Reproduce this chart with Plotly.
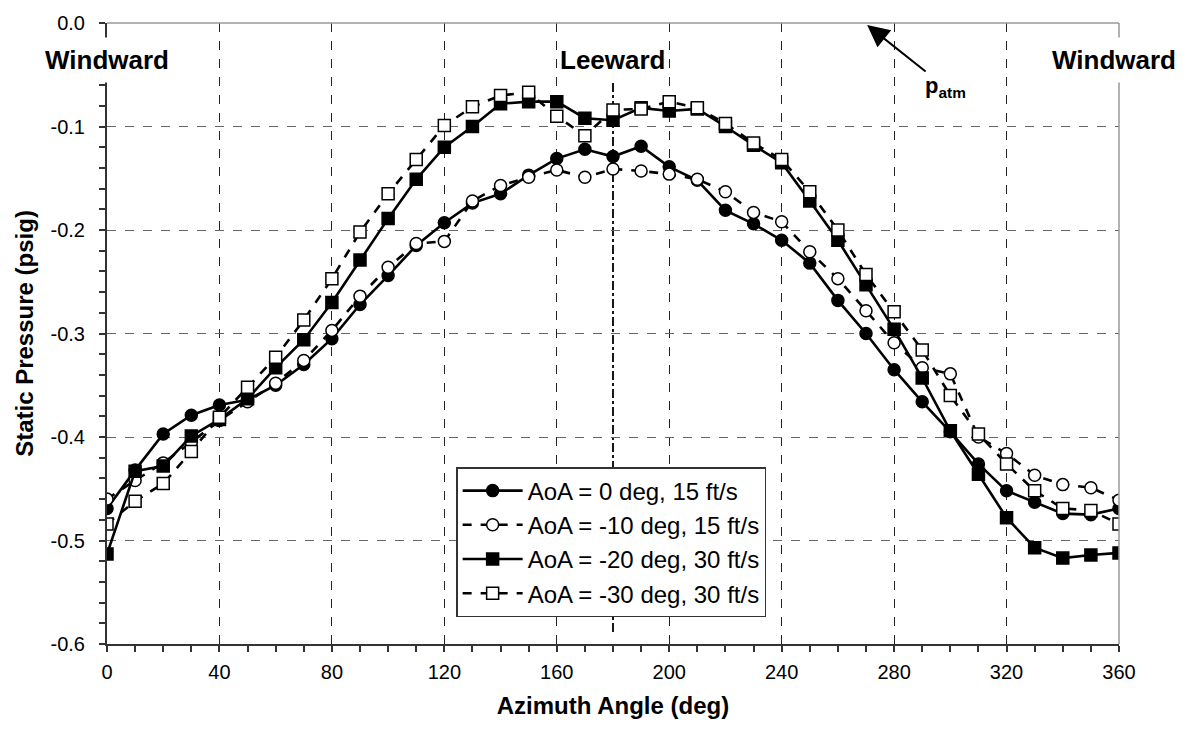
import plotly.graph_objects as go

FONT = "Arial, Liberation Sans, sans-serif"

azimuth = list(range(0, 361, 10))

aoa0_15 = [-0.469, -0.432, -0.397, -0.379, -0.369, -0.364, -0.350, -0.330, -0.305, -0.272,
           -0.244, -0.215, -0.193, -0.174, -0.165, -0.147, -0.131, -0.122, -0.129, -0.119,
           -0.139, -0.152, -0.181, -0.194, -0.210, -0.232, -0.268, -0.300, -0.335, -0.366,
           -0.395, -0.426, -0.452, -0.463, -0.474, -0.475, -0.469]

aoam10_15 = [-0.460, -0.442, -0.425, -0.405, -0.384, -0.366, -0.348, -0.326, -0.297, -0.264,
             -0.236, -0.213, -0.211, -0.172, -0.157, -0.149, -0.142, -0.149, -0.141, -0.143,
             -0.146, -0.151, -0.163, -0.183, -0.192, -0.221, -0.247, -0.278, -0.309, -0.333,
             -0.339, -0.400, -0.416, -0.437, -0.446, -0.449, -0.461]

aoam20_30 = [-0.513, -0.433, -0.428, -0.399, -0.383, -0.363, -0.333, -0.306, -0.270, -0.229,
             -0.189, -0.151, -0.120, -0.100, -0.078, -0.076, -0.076, -0.092, -0.094, -0.082,
             -0.085, -0.083, -0.100, -0.118, -0.135, -0.172, -0.210, -0.253, -0.296, -0.343,
             -0.394, -0.436, -0.478, -0.507, -0.517, -0.514, -0.512]

aoam30_30 = [-0.484, -0.462, -0.445, -0.414, -0.381, -0.352, -0.323, -0.287, -0.247, -0.202,
             -0.165, -0.132, -0.099, -0.081, -0.070, -0.067, -0.090, -0.109, -0.084, -0.083,
             -0.076, -0.082, -0.097, -0.116, -0.132, -0.163, -0.200, -0.243, -0.279, -0.316,
             -0.360, -0.397, -0.426, -0.452, -0.469, -0.471, -0.484]

series_names = ["AoA = 0 deg, 15 ft/s", "AoA = -10 deg, 15 ft/s",
                "AoA = -20 deg, 30 ft/s", "AoA = -30 deg, 30 ft/s"]

x_tickvals = list(range(0, 361, 40))
x_ticktext = [str(v) for v in x_tickvals]
y_tickvals = [0.0, -0.1, -0.2, -0.3, -0.4, -0.5, -0.6]
y_ticktext = ["0.0", "-0.1", "-0.2", "-0.3", "-0.4", "-0.5", "-0.6"]

fig = go.Figure()

styles = [
    (aoa0_15, "circle", "black", "solid"),
    (aoam10_15, "circle", "white", "dash"),
    (aoam20_30, "square", "black", "solid"),
    (aoam30_30, "square", "white", "dash"),
]
for (vals, sym, fill, dash), name in zip(styles, series_names):
    fig.add_trace(go.Scatter(
        x=azimuth, y=vals, name=name, mode="lines+markers",
        line=dict(color="black", width=2.6, dash=dash),
        marker=dict(symbol=sym, size=12, color=fill,
                    line=dict(color="black", width=1.5)),
    ))

# Leeward center line at 180 deg
fig.add_shape(type="line", x0=180, x1=180, y0=-0.058, y1=-0.59,
              xref="x", yref="y", layer="below",
              line=dict(color="black", width=1.8, dash="dashdot"))

# top and right frame (gray)
fig.add_shape(type="line", xref="paper", yref="paper", x0=0, x1=1, y0=1, y1=1,
              line=dict(color="#999999", width=1.5))
fig.add_shape(type="line", xref="paper", yref="paper", x0=1, x1=1, y0=0, y1=1,
              line=dict(color="#999999", width=1.5))

lab_font = dict(family=FONT, size=26, color="black")
fig.add_annotation(x=(177 - 107) / 1012, xref="paper", y=-0.0356, yref="y",
                   text="<b>Windward</b>",
                   showarrow=False, xanchor="right", yanchor="middle", font=lab_font,
                   bgcolor="white", borderpad=7)
fig.add_annotation(x=(1184 - 107) / 1012, xref="paper", y=-0.0356, yref="y",
                   text="<b>Windward</b>",
                   showarrow=False, xanchor="right", yanchor="middle", font=lab_font,
                   bgcolor="white", borderpad=7)
fig.add_annotation(x=180, y=-0.0356, text="<b>Leeward</b>", showarrow=False,
                   xanchor="center", yanchor="middle", font=lab_font,
                   bgcolor="white", borderpad=2)
fig.add_annotation(x=270.4, y=-0.002, text="<b>p<sub>atm</sub></b>",
                   showarrow=True, ax=78, ay=62, arrowhead=2, arrowsize=2.2,
                   arrowwidth=2, arrowcolor="black",
                   font=dict(family=FONT, size=22, color="black"))

fig.update_layout(
    width=1186, height=736,
    margin=dict(l=107, r=67, t=20, b=92),
    paper_bgcolor="white", plot_bgcolor="white",
    font=dict(family=FONT, size=20, color="black"),
    showlegend=True,
    legend=dict(x=0.345, y=0.285, xanchor="left", yanchor="top",
                bgcolor="white", bordercolor="#333333", borderwidth=1.5,
                font=dict(family=FONT, size=24, color="black"),
                tracegroupgap=0, itemwidth=60),
    xaxis=dict(range=[0, 360], tickvals=x_tickvals, ticktext=x_ticktext,
               ticks="outside", ticklen=6, tickwidth=1.5, tickcolor="#333333",
               showline=True, linecolor="#333333", linewidth=2,
               showgrid=True, gridcolor="#222222", gridwidth=1, griddash="dash",
               zeroline=False, ticklabelstandoff=3,
               minor=dict(dtick=10, ticks="outside", ticklen=6, tickwidth=1.5,
                          tickcolor="#333333", showgrid=False),
               title=dict(text="<b>Azimuth Angle (deg)</b>",
                          font=dict(family=FONT, size=24), standoff=15),
               tickfont=dict(family=FONT, size=20)),
    yaxis=dict(range=[-0.6, 0.0], tickvals=y_tickvals, ticktext=y_ticktext,
               ticks="outside", ticklen=6, tickwidth=1.5, tickcolor="#333333",
               showline=True, linecolor="#333333", linewidth=2,
               showgrid=True, gridcolor="#666666", gridwidth=1.2, griddash="dash",
               zeroline=False, ticklabelstandoff=10,
               minor=dict(dtick=0.02, ticks="outside", ticklen=6, tickwidth=1.5,
                          tickcolor="#333333", showgrid=False),
               title=dict(text="<b>Static Pressure (psig)</b>",
                          font=dict(family=FONT, size=24), standoff=10),
               tickfont=dict(family=FONT, size=20)),
)

fig.write_html("out.html", config={"displayModeBar": False},
               post_script="document.body.style.margin='0px';")
